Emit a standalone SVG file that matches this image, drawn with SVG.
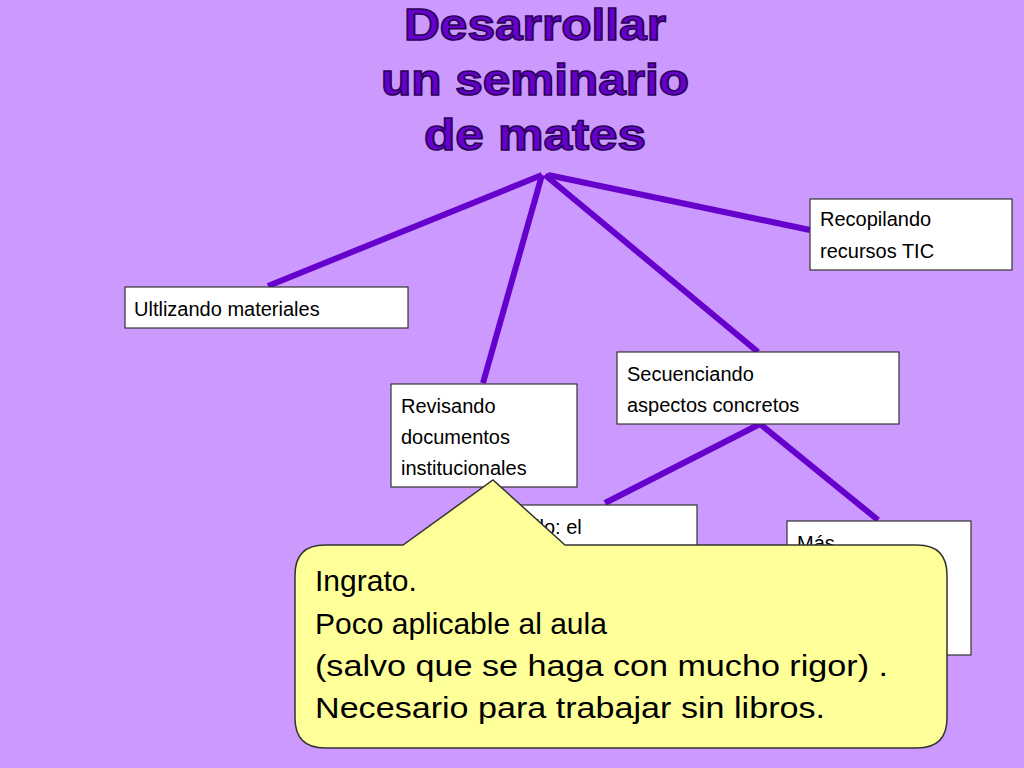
<svg xmlns="http://www.w3.org/2000/svg" width="1024" height="768" viewBox="0 0 1024 768">
<style>
.box{fill:#fff;stroke:#333;stroke-width:1.2}
.t{font-family:"Liberation Sans",Arial,sans-serif;font-size:20px;fill:#000}
.title{font-family:"Liberation Sans",Arial,sans-serif;font-weight:bold;font-size:44px;fill:#6600CC;stroke:#2a0055;stroke-width:1.6;text-anchor:middle}
.c{stroke:#6600CC;stroke-width:6;fill:none;stroke-linecap:butt}
.ct{font-family:"Liberation Sans",Arial,sans-serif;font-size:30px;fill:#000}
</style>
<rect width="1024" height="768" fill="#CC99FF"/>
<g id="title">
<text class="title" x="535" y="40" textLength="262" lengthAdjust="spacingAndGlyphs">Desarrollar</text>
<text class="title" x="535" y="95" textLength="308" lengthAdjust="spacingAndGlyphs">un seminario</text>
<text class="title" x="535" y="150" textLength="222" lengthAdjust="spacingAndGlyphs">de mates</text>
</g>
<g id="connectors">
<line class="c" x1="542" y1="175" x2="268" y2="286"/>
<line class="c" x1="542" y1="175" x2="483" y2="383"/>
<line class="c" x1="545" y1="175" x2="758" y2="352"/>
<line class="c" x1="548" y1="175" x2="810" y2="230"/>
<line class="c" x1="760" y1="424" x2="605" y2="503"/>
<line class="c" x1="760" y1="424" x2="878" y2="520"/>
</g>
<g id="recopilando"><rect class="box" x="810" y="199" width="202" height="71"/>
<text class="t" x="820" y="226">Recopilando</text><text class="t" x="820" y="258">recursos TIC</text></g>
<g id="utilizando"><rect class="box" x="125" y="287" width="283" height="41"/>
<text class="t" x="134" y="316">Ultlizando materiales</text></g>
<g id="revisando"><rect class="box" x="391" y="384" width="186" height="103"/>
<text class="t" x="401" y="413">Revisando</text><text class="t" x="401" y="444">documentos</text><text class="t" x="401" y="475">institucionales</text></g>
<g id="secuenciando"><rect class="box" x="617" y="352" width="282" height="72"/>
<text class="t" x="627" y="381">Secuenciando</text><text class="t" x="627" y="412">aspectos concretos</text></g>
<g id="sencillo"><rect class="box" x="470" y="505" width="227" height="100"/>
<text class="t" x="485" y="534">Sencillo: el</text></g>
<g id="mas"><rect class="box" x="787" y="521" width="184" height="134"/>
<text class="t" x="797" y="550">Más</text></g>
<g id="callout">
<path d="M325,545 L403,545 L493,480 L565,545 L917,545 Q947,545 947,575 L947,718 Q947,748 917,748 L325,748 Q295,748 295,718 L295,575 Q295,545 325,545 Z" fill="#FFFF99" stroke="#333" stroke-width="1.5"/>
<text class="ct" x="315" y="591">Ingrato.</text>
<text class="ct" x="315" y="634">Poco aplicable al aula</text>
<text class="ct" x="315" y="676" textLength="573" lengthAdjust="spacingAndGlyphs">(salvo que se haga con mucho rigor) .</text>
<text class="ct" x="315" y="718" textLength="510" lengthAdjust="spacingAndGlyphs">Necesario para trabajar sin libros.</text>
</g>
</svg>
